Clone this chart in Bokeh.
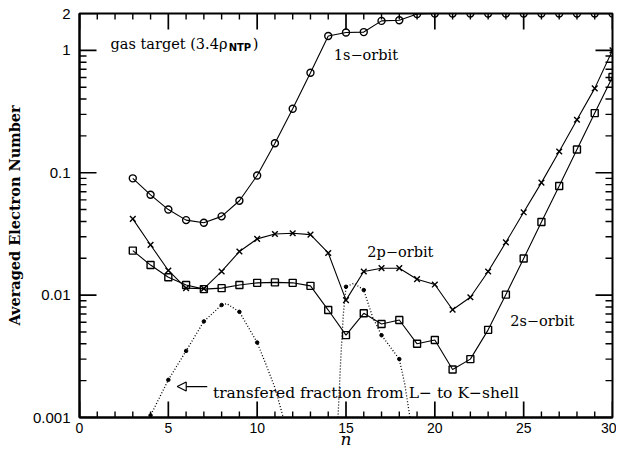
import math
from bokeh.plotting import figure
from bokeh.models import (Range1d, FixedTicker, CustomJSTickFormatter, Label, Arrow, NormalHead)
from bokeh.embed import file_html
from bokeh.resources import INLINE

# ---------------- data ----------------
n = list(range(3, 31))
orbit_1s = [0.090, 0.066, 0.050, 0.041, 0.039, 0.044, 0.059, 0.095, 0.174, 0.333,
            0.656, 1.31, 1.40, 1.41, 1.74, 1.76, 1.98, 2.0, 2.0, 2.0,
            2.0, 2.0, 2.0, 2.0, 2.0, 2.0, 2.0, 2.0]
orbit_2p = [0.042, 0.0257, 0.0159, 0.0114, 0.0113, 0.0156, 0.0227, 0.0288, 0.0316, 0.032,
            0.0312, 0.0221, 0.0091, 0.0156, 0.0166, 0.0166, 0.0135, 0.0122, 0.0076, 0.0096,
            0.0156, 0.027, 0.0475, 0.083, 0.149, 0.271, 0.489, 1.0]
orbit_2s = [0.0231, 0.0176, 0.0140, 0.0121, 0.0112, 0.0114, 0.0121, 0.0126, 0.0127, 0.0126,
            0.0119, 0.00755, 0.00471, 0.0071, 0.0058, 0.00626, 0.0040, 0.0043, 0.00247, 0.0030,
            0.0052, 0.0101, 0.0199, 0.0396, 0.078, 0.155, 0.307, 0.605]

# transferred fraction from L- to K-shell: computed points
transfer_n1 = [4, 5, 6, 7, 8, 9, 10]
transfer_v1 = [0.00104, 0.00203, 0.0035, 0.0061, 0.0083, 0.0073, 0.0041]
transfer_n2 = [15, 16, 17, 18]
transfer_v2 = [0.0117, 0.0110, 0.0047, 0.0030]
# dotted guide curves
curve1_n = [3.96, 4, 5, 6, 7, 8, 8.3, 9, 10, 10.5, 11, 11.47]
curve1_v = [0.001, 0.00104, 0.00203, 0.0035, 0.0061, 0.0083, 0.0085, 0.0073, 0.0041, 0.0027, 0.00175, 0.001]
curve2_n = [14.55, 14.7, 14.85, 15, 15.45, 16, 16.5, 17, 18, 18.3, 18.6]
curve2_v = [0.001, 0.0029, 0.007, 0.0117, 0.0125, 0.011, 0.0066, 0.0047, 0.0030, 0.0019, 0.001]

# axis ticks
x_lo, x_hi = 0, 30
y_lo, y_hi = 0.001, 2
x_major = [0, 5, 10, 15, 20, 25, 30]
x_minor = [i for i in range(0, 31) if i % 5 != 0]
y_major = [0.001, 0.01, 0.1, 1, 2]
y_minor = [m * 10.0 ** e for e in (-3, -2, -1) for m in range(2, 10)]

SERIF = "DejaVu Serif"
SANS = "Liberation Sans"
TICK_COLOR = "black"

W, H = 616, 453
B_LEFT, B_RIGHT, B_TOP, B_BOTTOM = 79, 4, 13, 36
MAJOR_LEN, MINOR_LEN = 16, 6

p = figure(width=W, height=H, x_range=Range1d(x_lo, x_hi), y_range=Range1d(y_lo, y_hi),
           y_axis_type="log", output_backend="svg", toolbar_location=None,
           min_border_left=B_LEFT, min_border_right=B_RIGHT,
           min_border_top=B_TOP, min_border_bottom=B_BOTTOM)
p.outline_line_color = "black"
p.outline_line_width = 2
p.grid.visible = False
p.background_fill_color = "white"
p.border_fill_color = "white"

def style_axis(ax, label_size):
    ax.axis_line_width = 2
    ax.axis_line_color = "black"
    ax.major_tick_line_color = None
    ax.minor_tick_line_color = None
    ax.major_tick_in = 0
    ax.major_tick_out = 0
    ax.minor_tick_in = 0
    ax.minor_tick_out = 0
    ax.major_label_text_font = SANS
    ax.major_label_text_font_size = label_size
    ax.major_label_text_color = "black"
    ax.axis_label_text_color = "black"

# bottom axis
xa = p.xaxis[0]
xa.ticker = FixedTicker(ticks=x_major)
style_axis(xa, "14px")
xa.major_label_standoff = 5
xa.axis_label = "n"
xa.axis_label_text_font = SERIF
xa.axis_label_text_font_style = "italic"
xa.axis_label_text_font_size = "17px"
xa.axis_label_standoff = -7

# left axis
ya = p.yaxis[0]
ya.ticker = FixedTicker(ticks=y_major)
ya.formatter = CustomJSTickFormatter(code="return String(tick)")
style_axis(ya, "15px")
ya.major_label_standoff = 9
ya.axis_label = "Averaged Electron Number"
ya.axis_label_text_font = SERIF
ya.axis_label_text_font_style = "bold"
ya.axis_label_text_font_size = "14.5px"
ya.axis_label_standoff = 7

# inward tick marks on all four sides (lengths in pixels converted via the frame size)
frame_w = W - B_LEFT - B_RIGHT
frame_h = H - B_TOP - B_BOTTOM
px_per_x = frame_w / (x_hi - x_lo)
px_per_decade = frame_h / math.log10(y_hi / y_lo)

def xtick_segments(ticks, length):
    f = 10 ** (length / px_per_decade)
    xs = ticks + ticks
    y0 = [y_lo] * len(ticks) + [y_hi] * len(ticks)
    y1 = [y_lo * f] * len(ticks) + [y_hi / f] * len(ticks)
    return xs, y0, y1

def ytick_segments(ticks, length):
    d = length / px_per_x
    ys = ticks + ticks
    x0 = [x_lo] * len(ticks) + [x_hi] * len(ticks)
    x1 = [x_lo + d] * len(ticks) + [x_hi - d] * len(ticks)
    return ys, x0, x1

for ticks, length, lw in ((x_major, MAJOR_LEN, 1.7), (x_minor, MINOR_LEN, 1.4)):
    xs, y0, y1 = xtick_segments(ticks, length)
    p.segment(x0=xs, y0=y0, x1=xs, y1=y1, line_color=TICK_COLOR, line_width=lw)
for ticks, length, lw in ((y_major, MAJOR_LEN + 1, 1.7), (y_minor, MINOR_LEN + 1, 1.4)):
    ys, x0, x1 = ytick_segments(ticks, length)
    p.segment(x0=x0, y0=ys, x1=x1, y1=ys, line_color=TICK_COLOR, line_width=lw)

# series
p.line(n, orbit_1s, line_color="black", line_width=1.1)
p.scatter(n, orbit_1s, marker="circle", size=7, fill_color=None, line_color="black", line_width=1.4)
p.line(n, orbit_2p, line_color="black", line_width=1.1)
p.scatter(n, orbit_2p, marker="x", size=8, line_color="black", line_width=1.4)
p.line(n, orbit_2s, line_color="black", line_width=1.1)
p.scatter(n, orbit_2s, marker="square", size=7, fill_color=None, line_color="black", line_width=1.4)

p.line(curve1_n, curve1_v, line_color="black", line_width=1.3, line_dash="1 2")
p.line(curve2_n, curve2_v, line_color="black", line_width=1.3, line_dash="1 2")
p.scatter(transfer_n1, transfer_v1, marker="circle", size=3.5, fill_color="black", line_color="black")
p.scatter(transfer_n2, transfer_v2, marker="circle", size=3.5, fill_color="black", line_color="black")

# annotations
def txt(x, y, s, size="14px", font=SERIF, style="normal"):
    p.add_layout(Label(x=x, y=y, text=s, text_font=font, text_font_size=size,
                       text_font_style=style, text_color="black",
                       text_align="left", text_baseline="alphabetic"))

txt(1.746, 1.12, "gas target (3.4\u03c1", size="14.5px")
txt(8.394, 1.058, "NTP", size="10px", font="DejaVu Sans", style="bold")
txt(9.75, 1.12, ")", size="14.5px")
txt(14.31, 0.91, "1s\u2212orbit", size="14.5px")
txt(16.2, 0.02235, "2p\u2212orbit", size="14.5px")
txt(24.24, 0.00617, "2s\u2212orbit", size="14.5px")
txt(7.51, 0.0016, "transfered fraction from L\u2212 to K\u2212shell", size="15.5px")

p.add_layout(Arrow(x_start=7.19, y_start=0.00179, x_end=5.5, y_end=0.00179,
                   line_color="black", line_width=1.3,
                   end=NormalHead(size=9, fill_color="white", line_color="black", line_width=1.2)))

open("out.html", "w").write(file_html(p, INLINE))
